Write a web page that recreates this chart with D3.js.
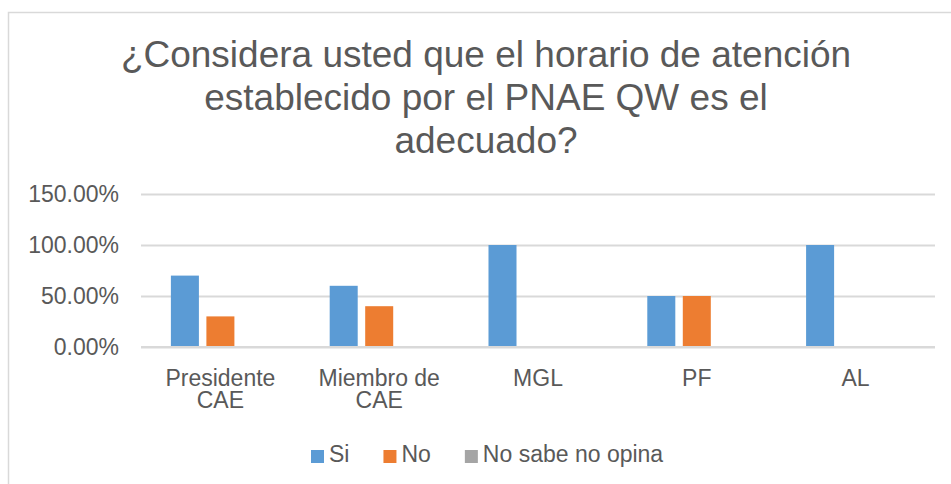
<html>
<head>
<meta charset="utf-8">
<script src="https://d3js.org/d3.v7.min.js"></script>
<style>
body { margin: 0; background: #fff; }
text { font-family: "Liberation Sans", Arial, sans-serif; fill: #595959; }
</style>
</head>
<body>
<div id="chart"></div>
<script>
// data
var titleLines = ["¿Considera usted que el horario de atención", "establecido por el PNAE QW es el", "adecuado?"];
var categories = ["Presidente CAE", "Miembro de CAE", "MGL", "PF", "AL"];
var categoryLines = [["Presidente", "CAE"], ["Miembro de", "CAE"], ["MGL"], ["PF"], ["AL"]];
var series = ["Si", "No", "No sabe no opina"];
var siValues = [70, 60, 100, 50, 100];
var noValues = [30, 40, 0, 50, 0];
var nsnoValues = [0, 0, 0, 0, 0];
var yTicks = [0, 50, 100, 150];
var colors = ["#5b9bd5", "#ed7d31", "#a5a5a5"];

var W = 951, H = 484;
var svg = d3.select("#chart").append("svg")
  .attr("width", W)
  .attr("height", H);

// chart frame
svg.append("rect")
  .attr("x", 8.5).attr("y", 12.5)
  .attr("width", 960).attr("height", 500)
  .attr("fill", "#fff")
  .attr("stroke", "#d9d9d9")
  .attr("stroke-width", 1.5);

// title
svg.append("g").selectAll("text")
  .data(titleLines)
  .enter().append("text")
  .attr("x", 486)
  .attr("y", function(d, i) { return 67 + i * 43; })
  .attr("text-anchor", "middle")
  .style("font-size", "37px")
  .text(function(d) { return d; });

var plotLeft = 141, plotRight = 935, plotTop = 194, plotBottom = 347;

var x0 = d3.scaleBand()
  .domain(categories)
  .range([plotLeft, plotRight]);

var x1 = d3.scaleBand()
  .domain(series)
  .range([0, x0.bandwidth()])
  .paddingInner(0.211)
  .paddingOuter(0.842);

var y = d3.scaleLinear()
  .domain([0, 150])
  .range([plotBottom, plotTop]);

// gridlines + y labels
var yAxis = svg.append("g")
  .attr("transform", "translate(" + plotLeft + ",0)")
  .call(d3.axisLeft(y).tickValues(yTicks).tickSize(-(plotRight - plotLeft)).tickPadding(22)
    .tickFormat(function(d) { return d.toFixed(2) + "%"; }));
yAxis.select(".domain").remove();
yAxis.selectAll("line").attr("stroke", "#d9d9d9").attr("stroke-width", 2);
yAxis.selectAll("text")
  .attr("fill", "#595959")
  .style("font-family", "Liberation Sans, Arial, sans-serif")
  .style("font-size", "23px");

// bars
var table = categories.map(function(c, i) {
  return { cat: c, vals: [siValues[i], noValues[i], nsnoValues[i]] };
});

var groups = svg.append("g").selectAll("g")
  .data(table)
  .enter().append("g")
  .attr("transform", function(d) { return "translate(" + x0(d.cat) + ",0)"; });

groups.selectAll("rect")
  .data(function(d) { return d.vals.map(function(v, j) { return { s: series[j], v: v, j: j }; }); })
  .enter().append("rect")
  .attr("x", function(d) { return x1(d.s); })
  .attr("width", x1.bandwidth())
  .attr("y", function(d) { return y(d.v); })
  .attr("height", function(d) { return y(0) - y(d.v); })
  .attr("fill", function(d) { return colors[d.j]; });

// bottom axis line drawn over the bars
svg.append("line")
  .attr("x1", plotLeft).attr("x2", plotRight)
  .attr("y1", y(0)).attr("y2", y(0))
  .attr("stroke", "#d9d9d9").attr("stroke-width", 2);

// category labels
var catLabels = svg.append("g").selectAll("text")
  .data(categories)
  .enter().append("text")
  .attr("x", function(d) { return x0(d) + x0.bandwidth() / 2; })
  .attr("y", 386)
  .attr("text-anchor", "middle")
  .style("font-size", "23px");

catLabels.selectAll("tspan")
  .data(function(d, i) { return categoryLines[i]; })
  .enter().append("tspan")
  .attr("x", function() { return this.parentNode.getAttribute("x"); })
  .attr("dy", function(d, i) { return i === 0 ? 0 : 22; })
  .text(function(d) { return d; });

// legend
var legend = svg.append("g");
var lx = 311;
series.forEach(function(s, i) {
  legend.append("rect")
    .attr("x", lx).attr("y", 450)
    .attr("width", 13).attr("height", 13)
    .attr("fill", colors[i]);
  var t = legend.append("text")
    .attr("x", lx + 18).attr("y", 462)
    .style("font-size", "23px")
    .text(s);
  lx = lx + 18 + t.node().getComputedTextLength() + 34;
});
</script>
</body>
</html>
